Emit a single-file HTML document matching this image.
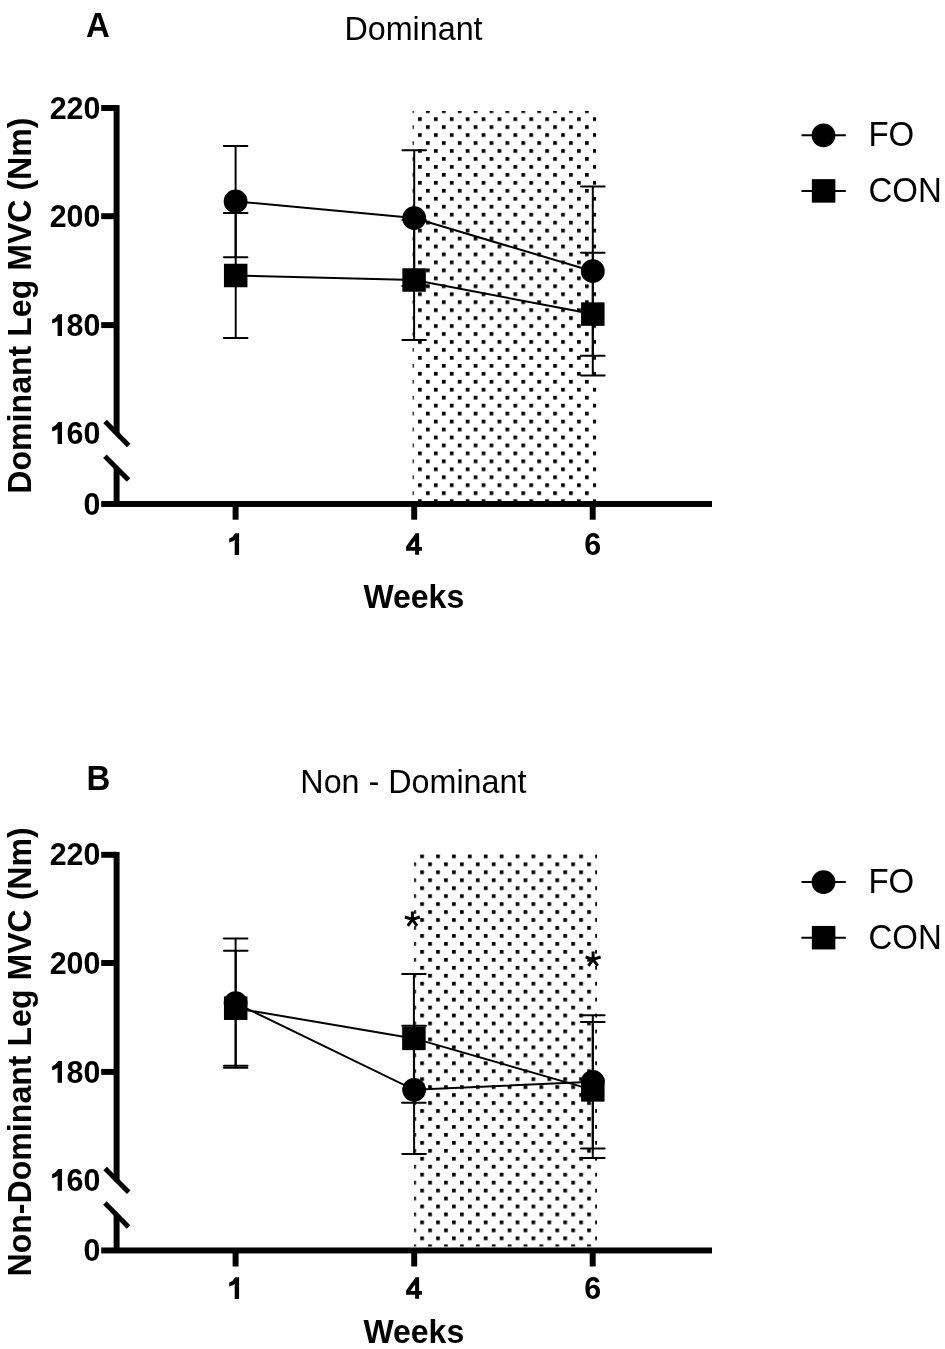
<!DOCTYPE html><html><head><meta charset="utf-8"><style>html,body{margin:0;padding:0;background:#fff;overflow:hidden;}svg{display:block;will-change:transform;}text{font-family:"Liberation Sans",sans-serif;fill:#000;}.tk{font-weight:bold;font-size:30.4px;}.bt{font-weight:bold;font-size:32px;}.yl{font-weight:bold;font-size:32.1px;}.bl{font-weight:bold;font-size:33px;}.rt{font-size:32.3px;}.lg{font-size:33px;}.ast{font-weight:bold;font-size:40px;}</style></head><body>
<svg width="945" height="1349" viewBox="0 0 945 1349">
<defs><pattern id="pa" patternUnits="userSpaceOnUse" x="426.010" y="109.340" width="15.9" height="15.915"><rect x="0" y="0" width="3.7" height="3.7"/><rect x="7.950" y="7.957" width="3.7" height="3.7"/></pattern><pattern id="pb" patternUnits="userSpaceOnUse" x="420.250" y="854.490" width="15.9" height="15.915"><rect x="0" y="0" width="3.7" height="3.7"/><rect x="7.950" y="7.957" width="3.7" height="3.7"/></pattern></defs>
<rect width="945" height="1349" fill="#fff"/>
<rect x="412.6" y="111.0" width="183.50" height="393.00" fill="url(#pa)"/>
<polyline points="235.60,201.40 414.20,218.10 592.80,271.20" fill="none" stroke="#000" stroke-width="2.0"/>
<polyline points="235.70,275.50 414.10,280.00 592.80,314.10" fill="none" stroke="#000" stroke-width="2.0"/>
<line x1="235.60" y1="145.90" x2="235.60" y2="257.20" stroke="#000" stroke-width="2.0"/>
<line x1="223.80" y1="145.90" x2="247.40" y2="145.90" stroke="#000" stroke-width="2.0" stroke-linecap="round"/>
<line x1="223.80" y1="257.20" x2="247.40" y2="257.20" stroke="#000" stroke-width="2.0" stroke-linecap="round"/>
<line x1="414.20" y1="150.30" x2="414.20" y2="285.90" stroke="#000" stroke-width="2.0"/>
<line x1="402.40" y1="150.30" x2="426.00" y2="150.30" stroke="#000" stroke-width="2.0" stroke-linecap="round"/>
<line x1="402.40" y1="285.90" x2="426.00" y2="285.90" stroke="#000" stroke-width="2.0" stroke-linecap="round"/>
<line x1="592.80" y1="186.60" x2="592.80" y2="355.80" stroke="#000" stroke-width="2.0"/>
<line x1="581.00" y1="186.60" x2="604.60" y2="186.60" stroke="#000" stroke-width="2.0" stroke-linecap="round"/>
<line x1="581.00" y1="355.80" x2="604.60" y2="355.80" stroke="#000" stroke-width="2.0" stroke-linecap="round"/>
<line x1="235.70" y1="213.00" x2="235.70" y2="338.00" stroke="#000" stroke-width="2.0"/>
<line x1="223.90" y1="213.00" x2="247.50" y2="213.00" stroke="#000" stroke-width="2.0" stroke-linecap="round"/>
<line x1="223.90" y1="338.00" x2="247.50" y2="338.00" stroke="#000" stroke-width="2.0" stroke-linecap="round"/>
<line x1="414.10" y1="220.10" x2="414.10" y2="339.90" stroke="#000" stroke-width="2.0"/>
<line x1="402.30" y1="220.10" x2="425.90" y2="220.10" stroke="#000" stroke-width="2.0" stroke-linecap="round"/>
<line x1="402.30" y1="339.90" x2="425.90" y2="339.90" stroke="#000" stroke-width="2.0" stroke-linecap="round"/>
<line x1="592.80" y1="252.70" x2="592.80" y2="375.60" stroke="#000" stroke-width="2.0"/>
<line x1="581.00" y1="252.70" x2="604.60" y2="252.70" stroke="#000" stroke-width="2.0" stroke-linecap="round"/>
<line x1="581.00" y1="375.60" x2="604.60" y2="375.60" stroke="#000" stroke-width="2.0" stroke-linecap="round"/>
<circle cx="235.60" cy="201.40" r="11.9"/>
<circle cx="414.20" cy="218.10" r="11.9"/>
<circle cx="592.80" cy="271.20" r="11.9"/>
<rect x="223.95" y="263.75" width="23.5" height="23.5"/>
<rect x="402.35" y="268.25" width="23.5" height="23.5"/>
<rect x="581.05" y="302.35" width="23.5" height="23.5"/>
<rect x="113.62" y="105.10" width="5.95" height="327.90"/>
<rect x="113.62" y="468.00" width="5.95" height="36.00"/>
<rect x="101.20" y="105.03" width="15.40" height="5.95"/>
<rect x="101.20" y="213.22" width="15.40" height="5.95"/>
<rect x="101.20" y="322.12" width="15.40" height="5.95"/>
<rect x="101.20" y="501.02" width="610.80" height="5.95"/>
<rect x="232.62" y="504.00" width="5.95" height="15.70"/>
<rect x="411.22" y="504.00" width="5.95" height="15.70"/>
<rect x="589.73" y="504.00" width="5.95" height="15.70"/>
<line x1="105.1" y1="421.6" x2="128.7" y2="445.5" stroke="#000" stroke-width="5"/>
<line x1="104.9" y1="456.3" x2="128.5" y2="480.1" stroke="#000" stroke-width="5"/>
<text class="tk" transform="translate(100.40,118.60) scale(1,1.04)" text-anchor="end">220</text>
<text class="tk" transform="translate(100.40,226.80) scale(1,1.04)" text-anchor="end">200</text>
<text class="tk" transform="translate(100.40,336.00) scale(1,1.04)" text-anchor="end">80</text>
<path d="M58.20 314.20 L62.00 314.20 L62.00 336.00 L57.60 336.00 L57.60 321.00 Q55.50 322.60 52.10 323.50 L52.10 319.60 Q56.10 318.10 58.20 314.20 Z"/>
<text class="tk" transform="translate(100.40,443.90) scale(1,1.04)" text-anchor="end">60</text>
<path d="M58.20 422.10 L62.00 422.10 L62.00 443.90 L57.60 443.90 L57.60 428.90 Q55.50 430.50 52.10 431.40 L52.10 427.50 Q56.10 426.00 58.20 422.10 Z"/>
<text class="tk" transform="translate(100.40,514.60) scale(1,1.04)" text-anchor="end">0</text>
<text class="tk" transform="translate(592.70,555.30) scale(1,1.04)" text-anchor="middle">6</text>
<path fill-rule="evenodd" d="M415.70 533.30 L419.10 533.30 L419.10 547.00 L421.90 547.00 L421.90 550.80 L419.10 550.80 L419.10 554.80 L415.10 554.80 L415.10 550.80 L406.10 550.80 L406.10 546.60 Z M410.5 547.00 L415.1 547.00 L415.1 540.40 Z"/>
<path d="M235.30 533.20 L239.10 533.20 L239.10 555.00 L234.70 555.00 L234.70 540.00 Q232.60 541.60 229.20 542.50 L229.20 538.60 Q233.20 537.10 235.30 533.20 Z"/>
<text class="bt" transform="translate(413.80,608.20) scale(1,1.02)" text-anchor="middle">Weeks</text>
<text class="yl" transform="translate(30.80,305.60) rotate(-90) scale(1,1.05)" text-anchor="middle">Dominant Leg MVC (Nm)</text>
<text class="bl" transform="translate(86.00,37.30) scale(1,1.04)">A</text>
<text class="rt" transform="translate(413.50,40.20) scale(1,1.02)" text-anchor="middle">Dominant</text>
<line x1="801.5" y1="135.3" x2="845.8" y2="135.3" stroke="#000" stroke-width="2.0"/>
<circle cx="823.5" cy="135.3" r="11.9"/>
<line x1="801.5" y1="190.9" x2="845.8" y2="190.9" stroke="#000" stroke-width="2.0"/>
<rect x="811.85" y="179.15" width="23.5" height="23.5"/>
<text class="lg" transform="translate(868.40,146.10) scale(1,1.04)">FO</text>
<text class="lg" transform="translate(868.40,202.10) scale(1,1.04)">CON</text>
<rect x="414.1" y="854.2" width="182.90" height="392.30" fill="url(#pb)"/>
<polyline points="235.60,1003.10 414.10,1089.80 592.80,1081.80" fill="none" stroke="#000" stroke-width="2.0"/>
<polyline points="235.70,1008.20 413.90,1038.40 592.80,1089.90" fill="none" stroke="#000" stroke-width="2.0"/>
<line x1="235.60" y1="938.50" x2="235.60" y2="1067.70" stroke="#000" stroke-width="2.0"/>
<line x1="223.80" y1="938.50" x2="247.40" y2="938.50" stroke="#000" stroke-width="2.0" stroke-linecap="round"/>
<line x1="223.80" y1="1067.70" x2="247.40" y2="1067.70" stroke="#000" stroke-width="2.0" stroke-linecap="round"/>
<line x1="414.10" y1="1025.70" x2="414.10" y2="1153.90" stroke="#000" stroke-width="2.0"/>
<line x1="402.30" y1="1025.70" x2="425.90" y2="1025.70" stroke="#000" stroke-width="2.0" stroke-linecap="round"/>
<line x1="402.30" y1="1153.90" x2="425.90" y2="1153.90" stroke="#000" stroke-width="2.0" stroke-linecap="round"/>
<line x1="592.80" y1="1015.20" x2="592.80" y2="1148.40" stroke="#000" stroke-width="2.0"/>
<line x1="581.00" y1="1015.20" x2="604.60" y2="1015.20" stroke="#000" stroke-width="2.0" stroke-linecap="round"/>
<line x1="581.00" y1="1148.40" x2="604.60" y2="1148.40" stroke="#000" stroke-width="2.0" stroke-linecap="round"/>
<line x1="235.70" y1="950.70" x2="235.70" y2="1065.70" stroke="#000" stroke-width="2.0"/>
<line x1="223.90" y1="950.70" x2="247.50" y2="950.70" stroke="#000" stroke-width="2.0" stroke-linecap="round"/>
<line x1="223.90" y1="1065.70" x2="247.50" y2="1065.70" stroke="#000" stroke-width="2.0" stroke-linecap="round"/>
<line x1="413.90" y1="974.10" x2="413.90" y2="1102.70" stroke="#000" stroke-width="2.0"/>
<line x1="402.10" y1="974.10" x2="425.70" y2="974.10" stroke="#000" stroke-width="2.0" stroke-linecap="round"/>
<line x1="402.10" y1="1102.70" x2="425.70" y2="1102.70" stroke="#000" stroke-width="2.0" stroke-linecap="round"/>
<line x1="592.80" y1="1021.90" x2="592.80" y2="1157.90" stroke="#000" stroke-width="2.0"/>
<line x1="581.00" y1="1021.90" x2="604.60" y2="1021.90" stroke="#000" stroke-width="2.0" stroke-linecap="round"/>
<line x1="581.00" y1="1157.90" x2="604.60" y2="1157.90" stroke="#000" stroke-width="2.0" stroke-linecap="round"/>
<circle cx="235.60" cy="1003.10" r="11.9"/>
<circle cx="414.10" cy="1089.80" r="11.9"/>
<circle cx="592.80" cy="1081.80" r="11.9"/>
<rect x="223.95" y="996.45" width="23.5" height="23.5"/>
<rect x="402.15" y="1026.65" width="23.5" height="23.5"/>
<rect x="581.05" y="1078.15" width="23.5" height="23.5"/>
<rect x="113.62" y="851.90" width="5.95" height="327.90"/>
<rect x="113.62" y="1214.80" width="5.95" height="35.65"/>
<rect x="101.20" y="851.82" width="15.40" height="5.95"/>
<rect x="101.20" y="960.02" width="15.40" height="5.95"/>
<rect x="101.20" y="1068.93" width="15.40" height="5.95"/>
<rect x="101.20" y="1247.48" width="610.80" height="5.95"/>
<rect x="232.62" y="1250.45" width="5.95" height="16.05"/>
<rect x="411.22" y="1250.45" width="5.95" height="16.05"/>
<rect x="589.73" y="1250.45" width="5.95" height="16.05"/>
<line x1="105.1" y1="1168.4" x2="128.7" y2="1192.3" stroke="#000" stroke-width="5"/>
<line x1="104.9" y1="1203.1" x2="128.5" y2="1226.9" stroke="#000" stroke-width="5"/>
<text class="tk" transform="translate(100.40,865.40) scale(1,1.04)" text-anchor="end">220</text>
<text class="tk" transform="translate(100.40,973.60) scale(1,1.04)" text-anchor="end">200</text>
<text class="tk" transform="translate(100.40,1082.80) scale(1,1.04)" text-anchor="end">80</text>
<path d="M58.20 1061.00 L62.00 1061.00 L62.00 1082.80 L57.60 1082.80 L57.60 1067.80 Q55.50 1069.40 52.10 1070.30 L52.10 1066.40 Q56.10 1064.90 58.20 1061.00 Z"/>
<text class="tk" transform="translate(100.40,1190.70) scale(1,1.04)" text-anchor="end">60</text>
<path d="M58.20 1168.90 L62.00 1168.90 L62.00 1190.70 L57.60 1190.70 L57.60 1175.70 Q55.50 1177.30 52.10 1178.20 L52.10 1174.30 Q56.10 1172.80 58.20 1168.90 Z"/>
<text class="tk" transform="translate(100.40,1261.40) scale(1,1.04)" text-anchor="end">0</text>
<text class="tk" transform="translate(592.70,1299.30) scale(1,1.04)" text-anchor="middle">6</text>
<path fill-rule="evenodd" d="M415.70 1277.30 L419.10 1277.30 L419.10 1291.00 L421.90 1291.00 L421.90 1294.80 L419.10 1294.80 L419.10 1298.80 L415.10 1298.80 L415.10 1294.80 L406.10 1294.80 L406.10 1290.60 Z M410.5 1291.00 L415.1 1291.00 L415.1 1284.40 Z"/>
<path d="M235.30 1277.20 L239.10 1277.20 L239.10 1299.00 L234.70 1299.00 L234.70 1284.00 Q232.60 1285.60 229.20 1286.50 L229.20 1282.60 Q233.20 1281.10 235.30 1277.20 Z"/>
<text class="bt" transform="translate(413.80,1343.10) scale(1,1.02)" text-anchor="middle">Weeks</text>
<text class="yl" transform="translate(30.80,1051.90) rotate(-90) scale(1,1.05)" text-anchor="middle">Non-Dominant Leg MVC (Nm)</text>
<text class="bl" transform="translate(86.50,790.40) scale(1,1.04)">B</text>
<text class="rt" transform="translate(413.40,793.30) scale(1,1.02)" text-anchor="middle">Non - Dominant</text>
<line x1="801.5" y1="882.0999999999999" x2="845.8" y2="882.0999999999999" stroke="#000" stroke-width="2.0"/>
<circle cx="823.5" cy="882.0999999999999" r="11.9"/>
<line x1="801.5" y1="937.6999999999999" x2="845.8" y2="937.6999999999999" stroke="#000" stroke-width="2.0"/>
<rect x="811.85" y="925.9499999999999" width="23.5" height="23.5"/>
<text class="lg" transform="translate(868.40,892.90) scale(1,1.04)">FO</text>
<text class="lg" transform="translate(868.40,948.90) scale(1,1.04)">CON</text>
<path d="M412.40 919.40 L412.40 911.50 M412.40 919.40 L419.91 916.96 M412.40 919.40 L404.89 916.96 M412.40 919.40 L407.76 925.79 M412.40 919.40 L417.04 925.79" stroke="#000" stroke-width="3.0" fill="none"/>
<path d="M593.10 959.40 L593.10 951.50 M593.10 959.40 L600.61 956.96 M593.10 959.40 L585.59 956.96 M593.10 959.40 L588.46 965.79 M593.10 959.40 L597.74 965.79" stroke="#000" stroke-width="3.0" fill="none"/>
</svg></body></html>
